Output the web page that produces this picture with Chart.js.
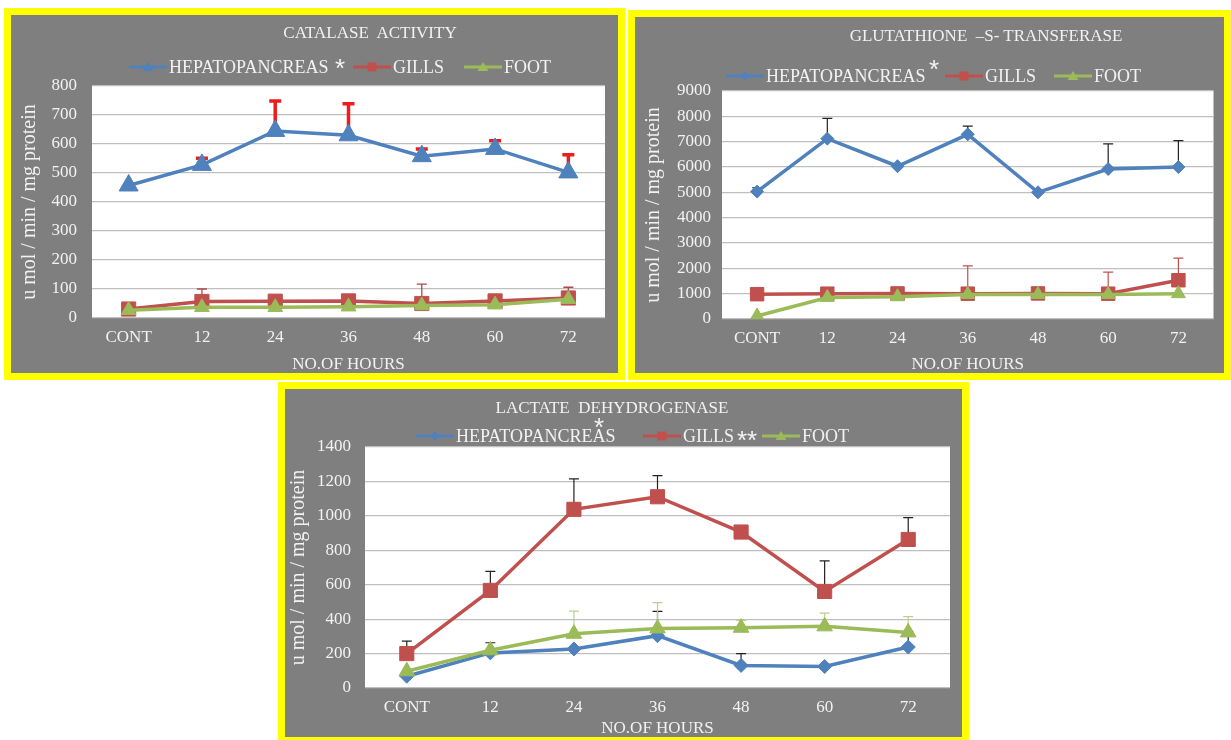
<!DOCTYPE html>
<html>
<head>
<meta charset="utf-8">
<script src="https://cdn.jsdelivr.net/npm/chart.js@4.4.0/dist/chart.umd.min.js"></script>
<style>
body { margin: 0; width: 1231px; height: 740px; background: #fff; position: relative; overflow: hidden; font-family: 'Liberation Serif', serif; }
.panel { position: absolute; box-sizing: border-box; border: 7px solid #ffff00; background: #7f7f7f; }
.panel canvas { display: block; }
.t { position: absolute; color: #f2f2f2; line-height: 1; white-space: pre; }
.ast { position: absolute; color: #f2f2f2; line-height: 1; font-family: 'Liberation Sans', sans-serif; white-space: pre; }
svg { position: absolute; }
</style>
</head>
<body>
<div class="panel" style="left:4px;top:8px;width:621px;height:372px"><canvas id="c1" width="607" height="358"></canvas></div>
<div class="panel" style="left:628px;top:10px;width:603px;height:370px"><canvas id="c2" width="589" height="356"></canvas></div>
<div class="panel" style="left:278px;top:382px;width:691px;height:362px"><canvas id="c3" width="677" height="348"></canvas></div>

<script>
// Enzyme activity after exposure - three line charts with upper error bars
const HOURS = ['CONT', '12', '24', '36', '48', '60', '72'];

// Catalase activity
const CAT_HEP       = [457, 528, 645, 630, 558, 583, 502];
const CAT_HEP_ERR   = [0, 23, 103, 109, 25, 28, 61];
const CAT_GILLS     = [31, 57, 58, 59, 50, 59, 69];
const CAT_GILLS_ERR = [0, 43, 0, 0, 67, 0, 37];
const CAT_FOOT      = [27, 37, 37, 39, 43, 46, 65];

// Glutathione-S-transferase
const GST_HEP       = [5030, 7120, 6030, 7290, 5000, 5920, 6000];
const GST_HEP_ERR   = [150, 800, 0, 320, 0, 990, 1040];
const GST_GILLS     = [980, 1000, 1010, 1000, 1010, 1000, 1530];
const GST_GILLS_ERR = [0, 0, 0, 1100, 0, 850, 870];
const GST_FOOT      = [120, 850, 880, 970, 970, 970, 1000];

// Lactate dehydrogenase
const LDH_HEP       = [68, 204, 227, 304, 131, 125, 238];
const LDH_HEP_ERR   = [0, 59, 0, 141, 69, 0, 90];
const LDH_GILLS     = [200, 567, 1038, 1111, 906, 561, 863];
const LDH_GILLS_ERR = [72, 111, 177, 123, 0, 177, 127];
const LDH_FOOT      = [97, 219, 315, 346, 350, 358, 323];
const LDH_FOOT_ERR  = [0, 0, 131, 150, 43, 77, 92];

const BLUE = '#4f81bd', RED = '#c0504d', GREEN = '#9bbb59';
const FONT = 'Liberation Serif';
const INK = '#f2f2f2';

const plotBg = {
    id: 'plotBg',
    beforeDraw(chart) {
        const a = chart.chartArea, ctx = chart.ctx;
        ctx.save();
        ctx.fillStyle = '#ffffff';
        ctx.fillRect(a.left, a.top, a.right - a.left, a.bottom - a.top);
        ctx.restore();
    }
};

// upper error bars, drawn under the markers
const errorBars = {
    id: 'errorBars',
    beforeDatasetsDraw(chart) {
        const ctx = chart.ctx, y = chart.scales.y;
        chart.data.datasets.forEach((ds, di) => {
            if (!ds.errors) return;
            const meta = chart.getDatasetMeta(di);
            ctx.save();
            ctx.strokeStyle = ds.errColor;
            ctx.lineWidth = ds.errWidth;
            meta.data.forEach((pt, i) => {
                const e = ds.errors[i];
                if (!e) return;
                const top = y.getPixelForValue(ds.data[i] + e);
                ctx.beginPath();
                ctx.moveTo(pt.x, pt.y);
                ctx.lineTo(pt.x, top);
                ctx.moveTo(pt.x - ds.errCap, top);
                ctx.lineTo(pt.x + ds.errCap, top);
                ctx.stroke();
            });
            ctx.restore();
        });
    }
};

function series(data, color, style, r, order, err) {
    const ds = {
        data, borderColor: color, backgroundColor: color, borderWidth: 3.5, tension: 0,
        pointStyle: style, pointRadius: r, pointBorderColor: color, pointBackgroundColor: color,
        pointBorderWidth: 1, order
    };
    if (err) Object.assign(ds, { errors: err.vals, errColor: err.color, errWidth: err.width, errCap: err.cap });
    return ds;
}

function makeChart(id, sets, yMax, yStep, g) {
    return new Chart(document.getElementById(id), {
        type: 'line',
        data: { labels: HOURS, datasets: sets },
        plugins: [plotBg, errorBars],
        options: {
            responsive: false, animation: false, devicePixelRatio: 1,
            layout: { padding: { left: 0, right: g.right, top: g.top, bottom: 0 } },
            plugins: { legend: { display: false }, title: { display: false }, tooltip: { enabled: false } },
            scales: {
                x: {
                    offset: true,
                    grid: { display: false, drawTicks: false },
                    border: { display: false },
                    ticks: { color: INK, font: { family: FONT, size: 17 }, padding: 9, maxRotation: 0 },
                    title: { display: true, text: 'NO.OF HOURS', color: INK, font: { family: FONT, size: 17, lineHeight: 1 }, padding: { top: 0, bottom: g.xt } },
                    afterFit: s => { s.height = g.bottom; }
                },
                y: {
                    min: 0, max: yMax,
                    grid: { color: '#bfbfbf', lineWidth: 1.2, drawTicks: false },
                    border: { display: false },
                    ticks: { stepSize: yStep, color: INK, font: { family: FONT, size: 17 }, padding: g.ytick, callback: v => String(v) },
                    title: { display: true, text: 'u mol / min / mg protein', color: INK, font: { family: FONT, size: 20, lineHeight: 1 }, padding: { top: g.yt, bottom: 0 } },
                    afterFit: s => { s.width = g.left; }
                }
            }
        }
    });
}

makeChart('c1', [
    series(CAT_HEP, BLUE, 'triangle', 11, 2, { vals: CAT_HEP_ERR, color: '#ee1c1c', width: 3.5, cap: 6 }),
    series(CAT_GILLS, RED, 'rect', 10, 1, { vals: CAT_GILLS_ERR, color: '#b0474a', width: 1.3, cap: 5 }),
    series(CAT_FOOT, GREEN, 'triangle', 8.5, 0)
], 800, 100, { left: 81, right: 13, top: 71, bottom: 55, xt: 0, yt: 9, ytick: 15 });

makeChart('c2', [
    series(GST_HEP, BLUE, 'rectRot', 6.5, 2, { vals: GST_HEP_ERR, color: '#222', width: 1.2, cap: 5 }),
    series(GST_GILLS, RED, 'rect', 9.5, 1, { vals: GST_GILLS_ERR, color: '#c0504d', width: 1.2, cap: 5 }),
    series(GST_FOOT, GREEN, 'triangle', 8, 0)
], 9000, 1000, { left: 87, right: 3, top: 74, bottom: 54, xt: 0, yt: 9, ytick: 11 });

makeChart('c3', [
    series(LDH_HEP, BLUE, 'rectRot', 7, 2, { vals: LDH_HEP_ERR, color: '#222', width: 1.2, cap: 5 }),
    series(LDH_GILLS, RED, 'rect', 10, 1, { vals: LDH_GILLS_ERR, color: '#222', width: 1.2, cap: 5 }),
    series(LDH_FOOT, GREEN, 'triangle', 9, 0, { vals: LDH_FOOT_ERR, color: '#b8d28e', width: 1.2, cap: 5 })
], 1400, 200, { left: 80, right: 12, top: 58, bottom: 49, xt: 0, yt: 4, ytick: 14 });

// titles, legends and significance marks
function text(x, y, s, size, center) {
    const d = document.createElement('div');
    d.className = 't';
    d.textContent = s;
    d.style.fontSize = size + 'px';
    d.style.left = x + 'px';
    d.style.top = y + 'px';
    d.style.transform = center ? 'translate(-50%,-50%)' : 'translate(0,-50%)';
    document.body.appendChild(d);
}
function star(x, y, s) {
    const d = document.createElement('div');
    d.className = 'ast';
    d.textContent = s;
    d.style.fontSize = '26px';
    d.style.left = x + 'px';
    d.style.top = (y - 0.28 * 26) + 'px';
    d.style.transform = 'translate(-50%,0)';
    document.body.appendChild(d);
}
function icon(x, y, color, marker) {
    let m = '';
    if (marker === 'triangle') m = `<polygon points="19,2 24.5,11 13.5,11" fill="${color}"/>`;
    if (marker === 'rect') m = `<rect x="14.5" y="2.5" width="9" height="9" fill="${color}"/>`;
    if (marker === 'rectRot') m = `<polygon points="19,2.5 23.5,7 19,11.5 14.5,7" fill="${color}"/>`;
    const w = document.createElement('div');
    w.innerHTML = `<svg width="38" height="14" style="left:${x}px;top:${y - 7}px"><line x1="0" y1="7" x2="38" y2="7" stroke="${color}" stroke-width="3"/>${m}</svg>`;
    document.body.appendChild(w.firstChild);
}
function legendItem(x, y, color, marker, label) {
    icon(x, y, color, marker);
    text(x + 40, y, label, 18, false);
}

// panel 1
text(370, 32, 'CATALASE  ACTIVITY', 17, true);
legendItem(129, 67, BLUE, 'triangle', 'HEPATOPANCREAS');
legendItem(353, 67, RED, 'rect', 'GILLS');
legendItem(464, 67, GREEN, 'triangle', 'FOOT');
star(340, 62, '*');

// panel 2
text(986, 35, 'GLUTATHIONE  \u2013S- TRANSFERASE', 17, true);
legendItem(726, 76, BLUE, 'rectRot', 'HEPATOPANCREAS');
legendItem(945, 76, RED, 'rect', 'GILLS');
legendItem(1054, 76, GREEN, 'triangle', 'FOOT');
star(934, 63, '*');

// panel 3
text(612, 407, 'LACTATE  DEHYDROGENASE', 17, true);
legendItem(416, 436, BLUE, 'rectRot', 'HEPATOPANCREAS');
legendItem(643, 436, RED, 'rect', 'GILLS');
legendItem(762, 436, GREEN, 'triangle', 'FOOT');
star(599, 421, '*');
star(747, 434, '**');
</script>
</body>
</html>
